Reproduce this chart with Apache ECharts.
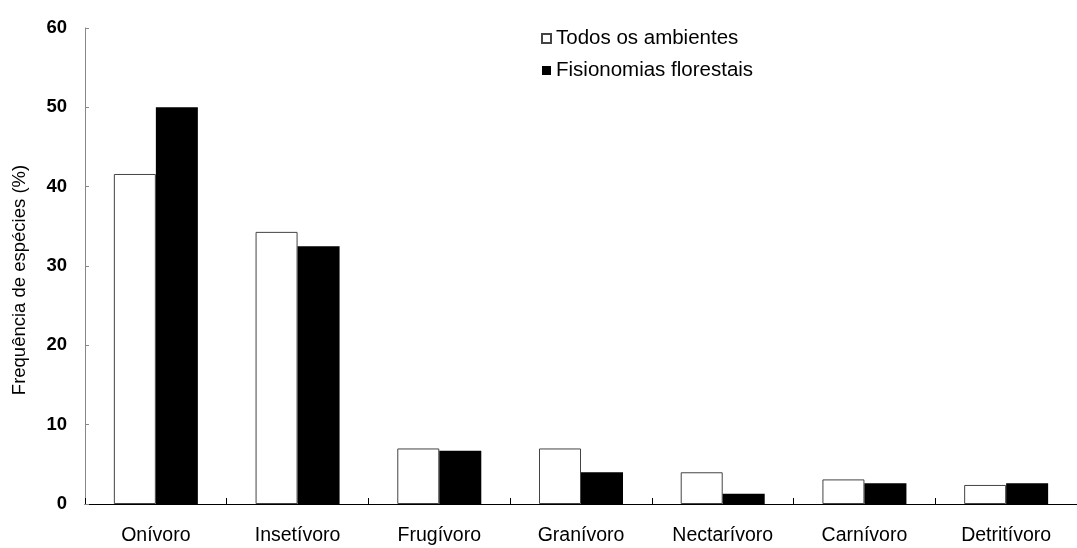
<!DOCTYPE html>
<html>
<head>
<meta charset="utf-8">
<script src="https://cdn.jsdelivr.net/npm/echarts@6/dist/echarts.min.js"></script>
<style>
  html, body { margin: 0; padding: 0; background: #fff; }
  #chart { width: 1077px; height: 548px; }
</style>
</head>
<body>
<div id="chart"></div>
<script>
// Guildas tróficas: frequência de espécies (%)
const categories = ['Onívoro', 'Insetívoro', 'Frugívoro', 'Granívoro', 'Nectarívoro', 'Carnívoro', 'Detritívoro'];
const todosAmbientes = [41.6, 34.3, 7.0, 7.0, 4.0, 3.1, 2.4];
const fisionomiasFlorestais = [50.0, 32.5, 6.7, 4.0, 1.3, 2.6, 2.6];
const seriesNames = ['Todos os ambientes', 'Fisionomias florestais'];
const yTicks = { min: 0, max: 60, interval: 10 };

const FONT = '"Liberation Sans", Arial, sans-serif';

const chart = echarts.init(document.getElementById('chart'), null, { renderer: 'canvas' });

chart.setOption({
  animation: false,
  backgroundColor: '#ffffff',
  textStyle: { fontFamily: FONT, color: '#000' },
  grid: { left: 85, top: 28, width: 1005, height: 476, containLabel: false },
  legend: {
    orient: 'vertical',
    left: 536,
    top: 23,
    itemWidth: 9,
    itemHeight: 9,
    itemGap: 11,
    icon: 'rect',
    textStyle: { fontFamily: FONT, fontSize: 20.5, color: '#000' },
    data: seriesNames
  },
  xAxis: {
    type: 'category',
    data: categories,
    boundaryGap: true,
    axisLine: { show: true, lineStyle: { color: '#000', width: 1 } },
    axisTick: { show: true, inside: true, length: 6, lineStyle: { color: '#000' } },
    axisLabel: { fontFamily: FONT, fontSize: 19.5, color: '#000', margin: 22, interval: 0 }
  },
  yAxis: {
    type: 'value',
    min: yTicks.min,
    max: yTicks.max,
    interval: yTicks.interval,
    name: 'Frequência de espécies (%)',
    nameLocation: 'middle',
    nameGap: 56,
    nameRotate: 90,
    nameTextStyle: { fontFamily: FONT, fontSize: 18.5, color: '#000', padding: [0, 28, 0, 0] },
    axisLine: { show: true, lineStyle: { color: '#888', width: 1 } },
    axisTick: { show: true, inside: true, length: 4, lineStyle: { color: '#888' } },
    axisLabel: { fontFamily: FONT, fontSize: 18.5, fontWeight: 'bold', color: '#000', margin: 18 },
    splitLine: { show: false }
  },
  series: [
    {
      name: seriesNames[0],
      type: 'bar',
      data: todosAmbientes,
      barWidth: 42,
      barGap: '0%',
      itemStyle: { color: '#ffffff', borderColor: '#444', borderWidth: 1 }
    },
    {
      name: seriesNames[1],
      type: 'bar',
      data: fisionomiasFlorestais,
      barWidth: 42,
      barGap: '0%',
      itemStyle: { color: '#000000', borderColor: '#000', borderWidth: 0 }
    }
  ]
});
</script>
</body>
</html>
